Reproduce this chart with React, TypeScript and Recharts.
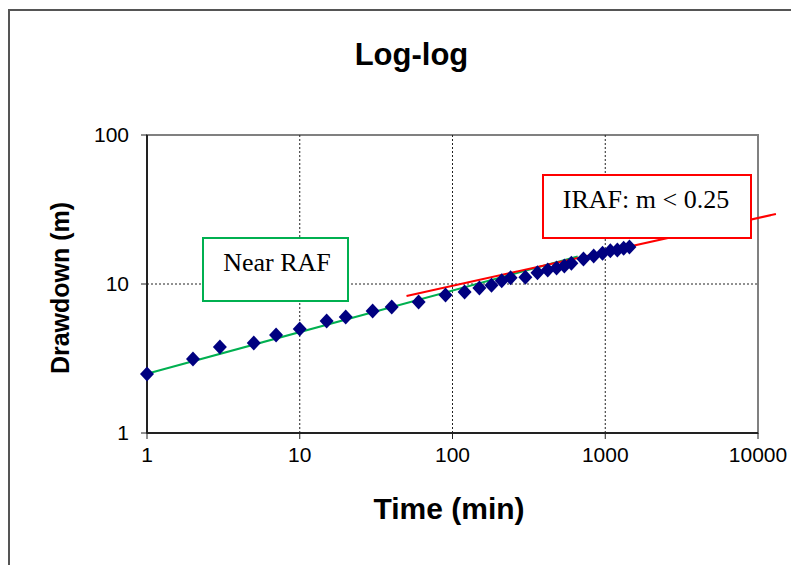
import {
  ReferenceArea,
  ReferenceLine,
  Scatter,
  ScatterChart,
  XAxis,
  YAxis,
} from "recharts";

// pumping test, time since start (min) vs drawdown (m)
const times = [
  1, 2, 3, 5, 7, 10, 15, 20, 30, 40, 60, 90, 120, 150, 180, 210, 240, 300, 360,
  420, 480, 540, 600, 720, 840, 960, 1080, 1200, 1320, 1440,
];
const drawdown = [
  2.49, 3.14, 3.78, 4.02, 4.55, 4.99, 5.65, 6.0, 6.59, 7.01, 7.57, 8.44, 8.84,
  9.4, 9.8, 10.5, 11.0, 11.1, 11.9, 12.4, 12.8, 13.2, 13.8, 14.7, 15.4, 16.1,
  16.7, 16.9, 17.4, 17.7,
];

// fitted lines: [time, drawdown] end points
const nearRafLine = [
  [1, 2.5],
  [660, 15.3],
];
const irafLine = [
  [50, 8.3],
  [13100, 29.5],
];

const xTicks = [1, 10, 100, 1000, 10000];
const yTicks = [1, 10, 100];
const xGrid = [10, 100, 1000];
const yGrid = [10];

const points = times.map((t, i) => ({ t, s: drawdown[i] }));

const sans = "'Liberation Sans', Arial, sans-serif";
const serif = "'Liberation Serif', 'Times New Roman', serif";

function Diamond(props: any) {
  const { cx, cy } = props;
  if (cx == null || cy == null) return null;
  return (
    <polygon
      points={`${cx},${cy - 7.5} ${cx + 7},${cy} ${cx},${cy + 7.5} ${cx - 7},${cy}`}
      fill="#000080"
    />
  );
}

export default function App() {
  // fixed so the 10000 label is not cut at the body's edge
  return (
    <div
      style={{
        position: "fixed",
        left: 8,
        top: 8,
        width: 783,
        height: 557,
        overflow: "hidden",
        fontFamily: sans,
        background: "#fff",
      }}
    >
      <div
        style={{
          position: "absolute",
          left: 0,
          top: 1,
          width: 783,
          height: 556,
          borderTop: "2px solid #555",
          borderLeft: "2px solid #555",
          boxSizing: "border-box",
        }}
      />
      <ScatterChart
        width={783}
        height={557}
        margin={{ top: 127, right: 33, bottom: 92, left: 39 }}
        style={{ position: "absolute", left: 0, top: 0 }}
      >
        <XAxis
          dataKey="t"
          type="number"
          scale="log"
          domain={[1, 10000]}
          ticks={xTicks}
          height={40}
          tick={{ fill: "#000", fontSize: 21, fontFamily: sans }}
          tickSize={6}
          tickMargin={8}
          axisLine={{ stroke: "#222", strokeWidth: 2 }}
          tickLine={{ stroke: "#222" }}
          interval={0}
        />
        <YAxis
          dataKey="s"
          type="number"
          scale="log"
          domain={[1, 100]}
          ticks={yTicks}
          width={100}
          tick={{ fill: "#000", fontSize: 21, fontFamily: sans }}
          tickSize={6}
          tickMargin={12}
          axisLine={{ stroke: "#222", strokeWidth: 2 }}
          tickLine={{ stroke: "#222" }}
          interval={0}
        />
        {xGrid.map((v) => (
          <ReferenceLine key={"x" + v} x={v} stroke="#222" strokeDasharray="2 2" />
        ))}
        {yGrid.map((v) => (
          <ReferenceLine key={"y" + v} y={v} stroke="#222" strokeDasharray="2 2" />
        ))}
        <ReferenceArea
          x1={1}
          x2={10000}
          y1={1}
          y2={100}
          fill="none"
          stroke="#808080"
          strokeWidth={2}
          ifOverflow="visible"
        />
        <Scatter data={points} shape={Diamond} isAnimationActive={false} />
        <ReferenceLine
          segment={nearRafLine.map(([x, y]) => ({ x, y }))}
          stroke="#00b050"
          strokeWidth={2}
          ifOverflow="visible"
        />
        <ReferenceLine
          segment={irafLine.map(([x, y]) => ({ x, y }))}
          stroke="#ff0000"
          strokeWidth={2}
          ifOverflow="visible"
        />
      </ScatterChart>

      <div
        style={{
          position: "absolute",
          left: 403.5,
          top: 30.7,
          transform: "translateX(-50%)",
          fontSize: 31,
          lineHeight: "31px",
          fontWeight: "bold",
          whiteSpace: "nowrap",
        }}
      >
        Log-log
      </div>

      <div
        style={{
          position: "absolute",
          left: 441,
          top: 485.6,
          transform: "translateX(-50%)",
          fontSize: 30,
          lineHeight: "30px",
          fontWeight: "bold",
          whiteSpace: "nowrap",
        }}
      >
        Time (min)
      </div>

      <div
        style={{
          position: "absolute",
          left: 52,
          top: 279.5,
          transform: "translate(-50%, -50%) rotate(-90deg)",
          fontSize: 25,
          lineHeight: "25px",
          fontWeight: "bold",
          whiteSpace: "nowrap",
        }}
      >
        Drawdown (m)
      </div>

      <div
        style={{
          position: "absolute",
          left: 194,
          top: 229,
          width: 147,
          height: 65,
          border: "2px solid #00b050",
          background: "#fff",
          boxSizing: "border-box",
        }}
      />
      <div
        style={{
          position: "absolute",
          left: 269,
          top: 242,
          transform: "translateX(-50%)",
          fontFamily: serif,
          fontSize: 26,
          lineHeight: "26px",
          whiteSpace: "nowrap",
        }}
      >
        Near RAF
      </div>

      <div
        style={{
          position: "absolute",
          left: 534,
          top: 166,
          width: 210,
          height: 65,
          border: "2px solid #ff0000",
          background: "#fff",
          boxSizing: "border-box",
        }}
      />
      <div
        style={{
          position: "absolute",
          left: 638,
          top: 179,
          transform: "translateX(-50%)",
          fontFamily: serif,
          fontSize: 26,
          lineHeight: "26px",
          whiteSpace: "nowrap",
        }}
      >
        IRAF: m &lt; 0.25
      </div>
    </div>
  );
}
